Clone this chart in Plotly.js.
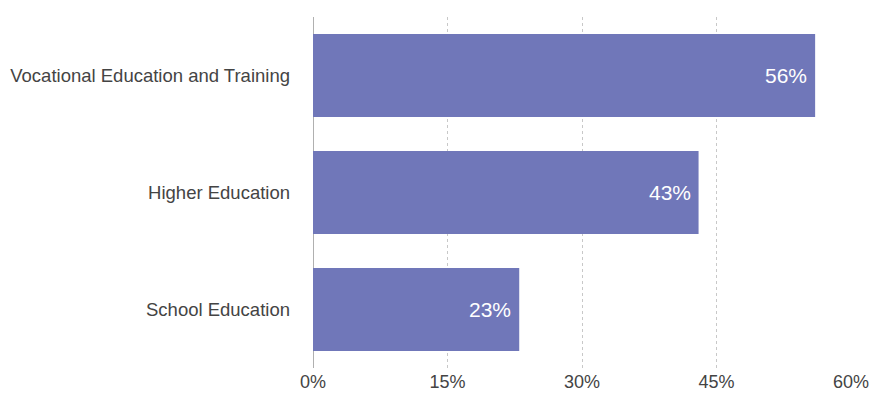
<!DOCTYPE html>
<html><head><meta charset="utf-8">
<script src="https://cdn.plot.ly/plotly-3.0.1.min.js"></script>
<style>html,body{margin:0;padding:0;background:#fff;}</style>
</head><body>
<div id="chart" style="width:870px;height:396px;"></div>
<script>
const categories = ["Vocational Education and Training", "Higher Education", "School Education"];
const values = [56, 43, 23];
const tickVals = [0, 15, 30, 45, 60];
const tickText = ["0%", "15%", "30%", "45%", "60%"];

const FONT = 'Liberation Sans, Arial, sans-serif';

const trace = {
  type: 'bar',
  orientation: 'h',
  x: values,
  y: categories,
  marker: {color: '#7077b9'},
  hoverinfo: 'none'
};

const annotations = values.map((v, i) => ({
  x: v, y: categories[i], xref: 'x', yref: 'y',
  text: v + '%', showarrow: false,
  xanchor: 'right', yanchor: 'middle', xshift: -6,
  font: {color: '#ffffff', size: 21, family: FONT}
}));

const layout = {
  width: 870, height: 396,
  margin: {l: 313, r: 19, t: 17, b: 28},
  paper_bgcolor: '#ffffff', plot_bgcolor: '#ffffff',
  bargap: 0.29,
  showlegend: false,
  font: {family: FONT, color: '#444444', size: 18},
  annotations: annotations,
  xaxis: {
    range: [0, 60],
    tickvals: tickVals,
    ticktext: tickText,
    showgrid: true,
    gridcolor: '#c8c8c8',
    griddash: 'dot',
    gridwidth: 1,
    zeroline: true,
    zerolinecolor: '#b0b0b0',
    zerolinewidth: 1,
    showline: false,
    ticks: '',
    ticklabelstandoff: 1,
    tickfont: {size: 18, color: '#444444'},
    fixedrange: true
  },
  yaxis: {
    autorange: 'reversed',
    showgrid: false,
    zeroline: false,
    showline: false,
    ticks: '',
    ticklabelstandoff: 22,
    tickfont: {size: 18.5, color: '#444444'},
    fixedrange: true
  }
};

Plotly.newPlot('chart', [trace], layout, {displayModeBar: false, staticPlot: true});
</script>
</body></html>
